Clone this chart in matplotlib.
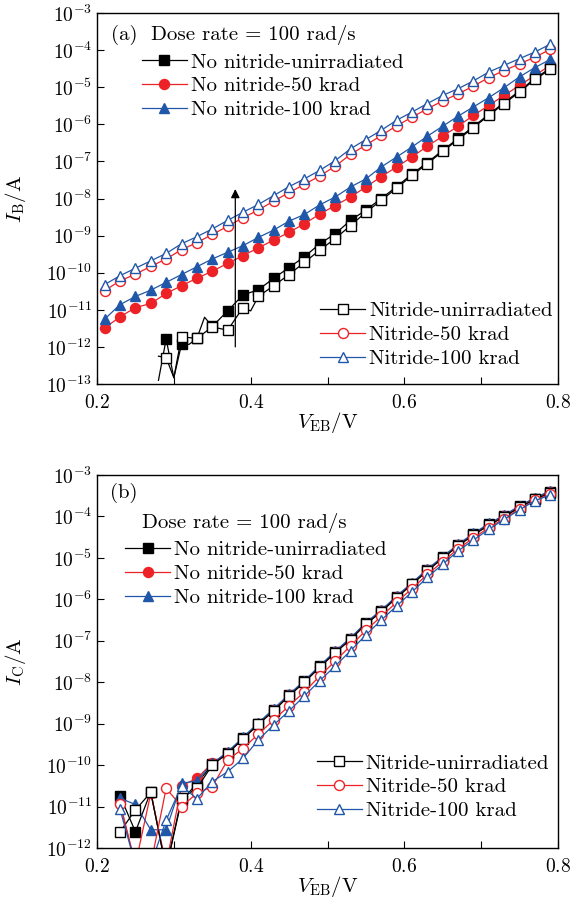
import numpy as np
import matplotlib
matplotlib.use("Agg")
import matplotlib.pyplot as plt
from matplotlib.lines import Line2D
from matplotlib.ticker import MultipleLocator, NullLocator, LogLocator

plt.rcParams["font.family"] = ["cmr10"]
plt.rcParams["mathtext.fontset"] = "cm"
plt.rcParams["axes.formatter.use_mathtext"] = True
plt.rcParams["axes.unicode_minus"] = False

# ---- panel (a): base current, values are log10(I_B / A) ----
v_a = [0.21, 0.23, 0.25, 0.27, 0.29, 0.31, 0.33, 0.35, 0.37, 0.39,
       0.41, 0.43, 0.45, 0.47, 0.49, 0.51, 0.53, 0.55, 0.57, 0.59,
       0.61, 0.63, 0.65, 0.67, 0.69, 0.71, 0.73, 0.75, 0.77, 0.79]
a_no_50 = [-11.49, -11.19, -10.94, -10.83, -10.56, -10.35, -10.15, -9.96,
           -9.75, -9.54, -9.33, -9.12, -8.91, -8.68, -8.42, -8.19, -7.96,
           -7.69, -7.41, -7.15, -6.88, -6.59, -6.32, -6.05, -5.76, -5.49,
           -5.22, -4.95, -4.68, -4.41]
a_no_100 = [-11.25, -10.86, -10.64, -10.47, -10.26, -10.05, -9.84, -9.63,
            -9.45, -9.27, -9.05, -8.85, -8.61, -8.43, -8.17, -7.96, -7.69,
            -7.47, -7.15, -6.88, -6.61, -6.32, -6.05, -5.78, -5.53, -5.28,
            -5.01, -4.72, -4.47, -4.25]
a_ni_50 = [-10.48, -10.22, -10.04, -9.83, -9.63, -9.38, -9.19, -8.97,
           -8.75, -8.52, -8.31, -8.07, -7.84, -7.62, -7.39, -7.13, -6.81,
           -6.56, -6.30, -6.04, -5.81, -5.58, -5.37, -5.18, -4.97, -4.74,
           -4.55, -4.37, -4.19, -3.98]
a_ni_100 = [-10.32, -10.08, -9.88, -9.68, -9.48, -9.22, -9.03, -8.82,
            -8.59, -8.37, -8.16, -7.92, -7.68, -7.47, -7.24, -6.98, -6.66,
            -6.41, -6.16, -5.89, -5.67, -5.44, -5.22, -5.04, -4.83, -4.59,
            -4.41, -4.23, -4.05, -3.84]

v_a_no_0 = [0.28, 0.29, 0.30, 0.31, 0.32, 0.33, 0.34, 0.35, 0.37, 0.39,
            0.41, 0.43, 0.45, 0.47, 0.49, 0.51, 0.53, 0.55, 0.57, 0.59,
            0.61, 0.63, 0.65, 0.67, 0.69, 0.71, 0.73, 0.75, 0.77, 0.79]
a_no_0 = [-12.90, -11.79, -12.83, -11.93, -11.93, -11.77, -11.20, -11.45,
          -11.03, -10.60, -10.46, -10.15, -9.86, -9.57, -9.22, -8.95, -8.59,
          -8.31, -8.00, -7.68, -7.34, -7.03, -6.70, -6.38, -6.06, -5.73,
          -5.41, -5.10, -4.76, -4.49]
v_a_ni_0 = [0.28, 0.29, 0.30, 0.31, 0.32, 0.33, 0.35, 0.37, 0.39, 0.40,
            0.41, 0.43, 0.45, 0.47, 0.49, 0.51, 0.53, 0.55, 0.57, 0.59,
            0.61, 0.63, 0.65, 0.67, 0.69, 0.71, 0.73, 0.75, 0.77, 0.79]
a_ni_0 = [-12.25, -12.29, -12.83, -11.73, -11.75, -11.77, -11.46, -11.55,
          -10.94, -11.03, -10.64, -10.35, -10.05, -9.72, -9.39, -9.08, -8.73,
          -8.37, -8.05, -7.72, -7.38, -7.06, -6.73, -6.41, -6.09, -5.76,
          -5.44, -5.13, -4.79, -4.52]

# ---- panel (b): collector current, values are log10(I_C / A) ----
v_b = [0.23, 0.25, 0.27, 0.29, 0.31, 0.33, 0.35, 0.37, 0.39, 0.41,
       0.43, 0.45, 0.47, 0.49, 0.51, 0.53, 0.55, 0.57, 0.59, 0.61,
       0.63, 0.65, 0.67, 0.69, 0.71, 0.73, 0.75, 0.77, 0.79]
b_no_0 = [-10.74, -11.61, -10.64, -12.50, -10.85, -10.45, -9.98, -9.70,
          -9.35, -9.00, -8.66, -8.31, -7.98, -7.62, -7.27, -6.95, -6.58,
          -6.28, -5.94, -5.62, -5.29, -4.99, -4.69, -4.43, -4.19, -3.99,
          -3.76, -3.57, -3.40]
b_no_50 = [-10.91, -12.40, -10.68, -12.40, -10.50, -10.32, -9.95, -9.71,
           -9.36, -9.01, -8.67, -8.32, -7.99, -7.63, -7.28, -6.96, -6.59,
           -6.29, -5.95, -5.63, -5.30, -5.00, -4.70, -4.44, -4.20, -4.00,
           -3.77, -3.58, -3.42]
b_no_100 = [-10.80, -10.95, -11.56, -11.56, -10.44, -10.38, -9.96, -9.68,
            -9.33, -8.98, -8.64, -8.29, -7.96, -7.60, -7.25, -6.93, -6.56,
            -6.26, -5.92, -5.60, -5.27, -4.97, -4.67, -4.41, -4.17, -3.97,
            -3.74, -3.55, -3.38]
b_ni_0 = [-11.61, -11.08, -10.66, -12.50, -10.80, -10.56, -10.00, -9.72,
          -9.37, -9.02, -8.69, -8.33, -8.00, -7.64, -7.29, -6.97, -6.60,
          -6.30, -5.96, -5.64, -5.31, -5.01, -4.71, -4.45, -4.21, -4.01,
          -3.78, -3.59, -3.43]
b_ni_50 = [-10.95, -12.40, -12.40, -10.56, -11.00, -10.68, -10.52, -9.88,
           -9.60, -9.25, -8.91, -8.57, -8.23, -7.85, -7.49, -7.12, -6.75,
           -6.41, -6.07, -5.74, -5.40, -5.09, -4.78, -4.52, -4.27, -4.05,
           -3.82, -3.61, -3.46]
b_ni_100 = [-11.07, -12.40, -12.40, -11.33, -10.50, -10.81, -10.40, -10.16,
            -9.84, -9.39, -9.03, -8.69, -8.33, -7.96, -7.61, -7.24, -6.86,
            -6.50, -6.16, -5.82, -5.47, -5.15, -4.83, -4.57, -4.31, -4.07,
            -3.84, -3.62, -3.48]

labels_no = ["No nitride-unirradiated", "No nitride-50 krad", "No nitride-100 krad"]
labels_ni = ["Nitride-unirradiated", "Nitride-50 krad", "Nitride-100 krad"]

BLACK = "black"
RED = "#ec2227"
BLUE = "#2157a8"
colors = [BLACK, RED, BLUE]
markers = ["s", "o", "^"]
sizes = [6.6, 7.2, 7.8]


def odd_marks(v):
    # markers sit on the odd hundredths of a volt
    return [i for i, x in enumerate(v) if round(x * 100) % 2 == 1]


def draw(ax, v, logi, k, filled):
    c = colors[k]
    ax.plot(v, 10.0 ** np.array(logi), color=c, lw=0.9,
            marker=markers[k], ms=sizes[k], mec=c, mew=1.0,
            mfc=c if filled else "white", markevery=odd_marks(v))


def proxies(filled):
    return [Line2D([], [], color=colors[k], lw=0.9, marker=markers[k],
                   ms=sizes[k], mec=colors[k], mew=1.0,
                   mfc=colors[k] if filled else "white") for k in range(3)]


def legend(ax, handles, labels, x, y):
    return ax.legend(handles, labels, loc="upper left", bbox_to_anchor=(x, y),
                     frameon=False, fontsize=15, handlelength=2.15,
                     handletextpad=0.2, labelspacing=0.25, borderpad=0,
                     borderaxespad=0)


def style(ax, ymin, ylabel):
    ax.set_yscale("log")
    ax.set_xlim(0.2, 0.8)
    ax.set_ylim(10.0 ** ymin, 1e-3)
    ax.xaxis.set_major_locator(MultipleLocator(0.2))
    ax.xaxis.set_minor_locator(MultipleLocator(0.1))
    ax.yaxis.set_major_locator(LogLocator(base=10, numticks=20))
    ax.yaxis.set_minor_locator(NullLocator())
    ax.tick_params(which="both", direction="in", length=5, width=0.8,
                   labelsize=14, top=False, right=False)
    ax.tick_params(axis="x", pad=7)
    for s in ax.spines.values():
        s.set_linewidth(1.0)
    ax.set_xlabel(r"$V_{\mathrm{EB}}/\mathrm{V}$", fontsize=15, labelpad=-1)
    ax.set_ylabel(ylabel, fontsize=15, labelpad=13)


fig = plt.figure(figsize=(5.76, 9), dpi=100)
ax_a = fig.add_axes([97 / 576, 1 - 384 / 900, 461 / 576, 371 / 900])
ax_b = fig.add_axes([97 / 576, 1 - 848 / 900, 461 / 576, 373 / 900])

# panel (a)
draw(ax_a, v_a_no_0, a_no_0, 0, True)
draw(ax_a, v_a, a_no_50, 1, True)
draw(ax_a, v_a, a_no_100, 2, True)
draw(ax_a, v_a_ni_0, a_ni_0, 0, False)
draw(ax_a, v_a, a_ni_50, 1, False)
draw(ax_a, v_a, a_ni_100, 2, False)
ax_a.annotate("", xy=(0.38, 1.8e-8), xytext=(0.38, 1e-12),
              arrowprops=dict(arrowstyle="-|>", color="black", lw=0.9,
                              mutation_scale=13, shrinkA=0, shrinkB=0))
style(ax_a, -13, r"$I_{\mathrm{B}}/\mathrm{A}$")
ax_a.text(0.03, 0.94, "(a)", transform=ax_a.transAxes, fontsize=15, va="center")
ax_a.text(0.118, 0.94, "Dose rate = 100 rad/s", transform=ax_a.transAxes,
          fontsize=15, va="center")
leg = legend(ax_a, proxies(True), labels_no, 0.097, 0.892)
ax_a.add_artist(leg)
legend(ax_a, proxies(False), labels_ni, 0.484, 0.222)

# panel (b)
draw(ax_b, v_b, b_no_0, 0, True)
draw(ax_b, v_b, b_no_50, 1, True)
draw(ax_b, v_b, b_no_100, 2, True)
draw(ax_b, v_b, b_ni_0, 0, False)
draw(ax_b, v_b, b_ni_50, 1, False)
draw(ax_b, v_b, b_ni_100, 2, False)
style(ax_b, -12, r"$I_{\mathrm{C}}/\mathrm{A}$")
ax_b.text(0.028, 0.952, "(b)", transform=ax_b.transAxes, fontsize=15, va="center")
ax_b.text(0.097, 0.872, "Dose rate = 100 rad/s", transform=ax_b.transAxes,
          fontsize=15, va="center")
leg = legend(ax_b, proxies(True), labels_no, 0.061, 0.824)
ax_b.add_artist(leg)
legend(ax_b, proxies(False), labels_ni, 0.477, 0.252)

fig.savefig("out.png", dpi=100)
